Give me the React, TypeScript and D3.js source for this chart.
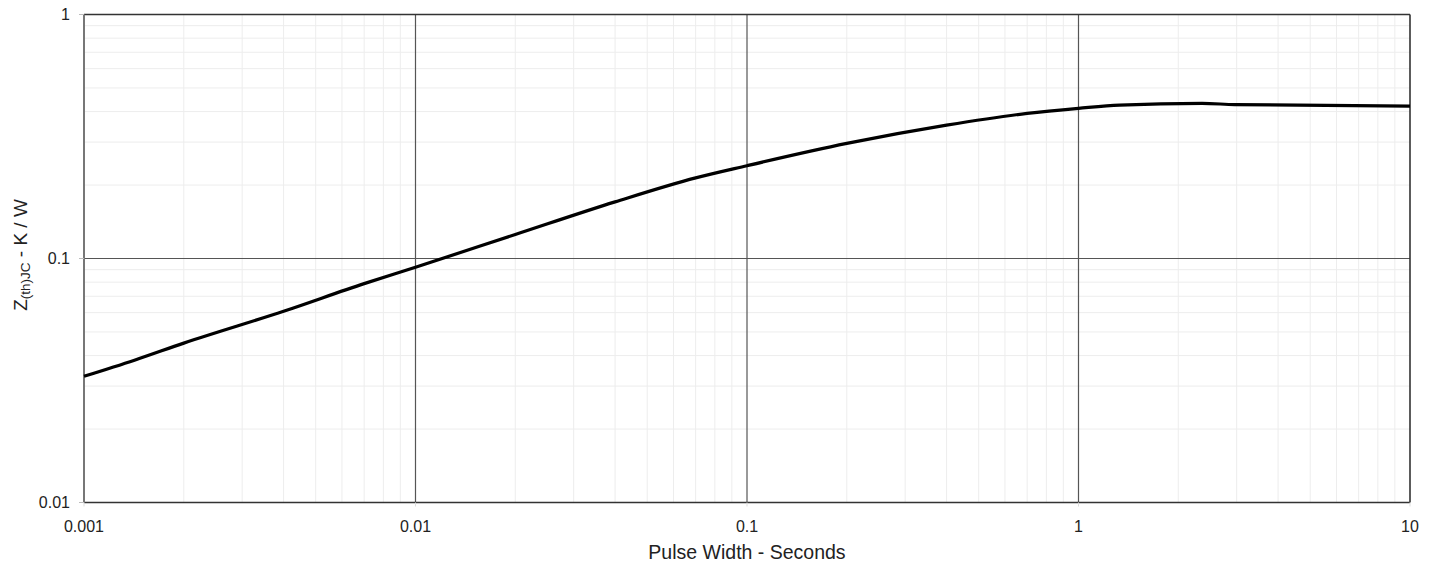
import React from "react";
import * as d3 from "d3";

const pulseWidth = [0.001, 0.00142, 0.002, 0.004, 0.007, 0.01, 0.02, 0.04, 0.07, 0.1, 0.2, 0.4, 0.7, 1, 1.33, 2.36, 2.96, 10];
const zthjc = [0.0329, 0.0383, 0.0450, 0.0608, 0.0789, 0.0921, 0.1254, 0.1706, 0.2140, 0.2401, 0.2962, 0.352, 0.3933, 0.4124, 0.4253, 0.4322, 0.4274, 0.4213];
const xTicks = [0.001, 0.01, 0.1, 1, 10];
const yTicks = [0.01, 0.1, 1];
const xTickLabels = ["0.001", "0.01", "0.1", "1", "10"];
const yTickLabels = ["0.01", "0.1", "1"];

const W = 1440, H = 567;
const m = { left: 84, right: 1410, top: 14.5, bottom: 502.5 };

export default function App() {
  const x = d3.scaleLog().domain([0.001, 10]).range([m.left, m.right]);
  const y = d3.scaleLog().domain([0.01, 1]).range([m.bottom, m.top]);
  const font = "'Liberation Sans', Arial, Helvetica, sans-serif";

  const minorX: number[] = [];
  for (let e = -3; e < 1; e++) for (let k = 2; k <= 9; k++) minorX.push(k * Math.pow(10, e));
  const minorY: number[] = [];
  for (let e = -2; e < 0; e++) for (let k = 2; k <= 9; k++) minorY.push(k * Math.pow(10, e));

  const line = d3.line<number>().x((_, i) => x(pulseWidth[i])).y((d) => y(d)).curve(d3.curveMonotoneX);

  return (
    <svg width={W} height={H} style={{ position: "absolute", left: 0, top: 0, background: "#fff" }}>
      <rect x={0} y={0} width={W} height={H} fill="#fff" />
      {minorX.map((v, i) => (
        <line key={"mx" + i} x1={x(v)} x2={x(v)} y1={m.top} y2={m.bottom} stroke="#ededed" strokeWidth={1} />
      ))}
      {minorY.map((v, i) => (
        <line key={"my" + i} x1={m.left} x2={m.right} y1={y(v)} y2={y(v)} stroke="#ededed" strokeWidth={1} />
      ))}
      {xTicks.slice(1, -1).map((v, i) => (
        <line key={"Mx" + i} x1={x(v)} x2={x(v)} y1={m.top} y2={m.bottom} stroke="#555" strokeWidth={1.2} />
      ))}
      {yTicks.slice(1, -1).map((v, i) => (
        <line key={"My" + i} x1={m.left} x2={m.right} y1={y(v)} y2={y(v)} stroke="#555" strokeWidth={1.2} />
      ))}
      {/* frame */}
      <line x1={m.left} x2={m.right} y1={m.top} y2={m.top} stroke="#333" strokeWidth={1.6} />
      <line x1={m.left} x2={m.right} y1={m.bottom} y2={m.bottom} stroke="#333" strokeWidth={1.6} />
      <line x1={m.right} x2={m.right} y1={m.top} y2={m.bottom} stroke="#333" strokeWidth={1.6} />
      <line x1={m.left} x2={m.left} y1={m.top} y2={m.bottom} stroke="#777" strokeWidth={2} />
      {/* ticks */}
      {yTicks.map((v, i) => (
        <line key={"ty" + i} x1={m.left - 5} x2={m.left} y1={y(v)} y2={y(v)} stroke="#bbb" strokeWidth={1} />
      ))}
      {xTicks.map((v, i) => (
        <line key={"tx" + i} x1={x(v)} x2={x(v)} y1={m.bottom} y2={m.bottom + 4} stroke="#ddd" strokeWidth={1} />
      ))}
      <path d={line(zthjc) || ""} fill="none" stroke="#000" strokeWidth={3.2} strokeLinejoin="round" />
      {yTicks.map((v, i) => (
        <text key={"ly" + i} x={70} y={y(v)} dy="0.35em" textAnchor="end" fontFamily={font} fontSize={16} fill="#222">
          {yTickLabels[i]}
        </text>
      ))}
      {xTicks.map((v, i) => (
        <text key={"lx" + i} x={x(v)} y={526} dy="0.35em" textAnchor="middle" fontFamily={font} fontSize={16} fill="#222">
          {xTickLabels[i]}
        </text>
      ))}
      <text x={(m.left + m.right) / 2} y={559} textAnchor="middle" fontFamily={font} fontSize={19.5} fill="#222">
        Pulse Width - Seconds
      </text>
      <text transform={`translate(27,255) rotate(-90)`} textAnchor="middle" fontFamily={font} fontSize={19} fill="#222">
        Z<tspan fontSize={13.5} dy={3}>(th)JC</tspan>
        <tspan dy={-3}> - K / W</tspan>
      </text>
    </svg>
  );
}
